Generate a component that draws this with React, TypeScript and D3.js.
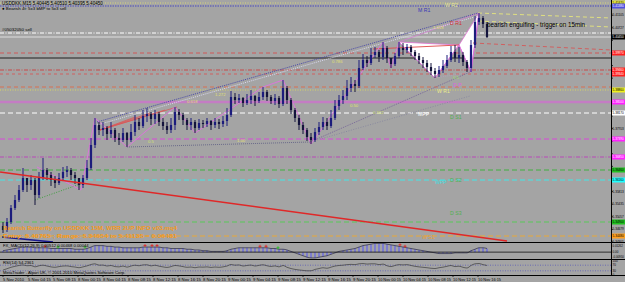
import React from "react";
import * as d3 from "d3";

// ---------- data ----------
const firstOpen = 5.3478;
const closes = [
  5.3466, 5.3490, 5.3532, 5.3556, 5.3586, 5.3622, 5.3601, 5.3616, 5.3571, 5.3622,
  5.3646, 5.3631, 5.3616, 5.3607, 5.3622, 5.3640, 5.3646, 5.3631, 5.3622, 5.3601,
  5.3622, 5.3652, 5.3721, 5.3781, 5.3766, 5.3772, 5.3754, 5.3766, 5.3742, 5.3736,
  5.3757, 5.3736, 5.3760, 5.3790, 5.3778, 5.3808, 5.3814, 5.3799, 5.3814, 5.3790,
  5.3778, 5.3766, 5.3781, 5.3820, 5.3811, 5.3796, 5.3781, 5.3790, 5.3772, 5.3787,
  5.3784, 5.3793, 5.3781, 5.3790, 5.3784, 5.3793, 5.3811, 5.3865, 5.3856, 5.3862,
  5.3847, 5.3856, 5.3868, 5.3853, 5.3865, 5.3880, 5.3865, 5.3853, 5.3862, 5.3844,
  5.3892, 5.3856, 5.3826, 5.3802, 5.3781, 5.3766, 5.3745, 5.3736, 5.3760, 5.3775,
  5.3790, 5.3778, 5.3802, 5.3838, 5.3856, 5.3868, 5.3892, 5.3904, 5.3898, 5.3952,
  5.3976, 5.3967, 5.3991, 5.4000, 5.3985, 5.4012, 5.3982, 5.3964, 5.3988, 5.4012,
  5.4006, 5.4015, 5.4000, 5.3988, 5.3976, 5.3967, 5.3955, 5.3943, 5.3934, 5.3946,
  5.3958, 5.3976, 5.4000, 5.3982, 5.3991, 5.3970, 5.3952, 5.4021, 5.4090, 5.4102,
  5.4084, 5.4045,
];
const highs = [
  5.3490, 5.3502, 5.3541, 5.3571, 5.3601, 5.3652, 5.3622, 5.3631, 5.3622, 5.3640,
  5.3682, 5.3652, 5.3640, 5.3628, 5.3637, 5.3655, 5.3658, 5.3652, 5.3640, 5.3622,
  5.3631, 5.3676, 5.3742, 5.3802, 5.3790, 5.3790, 5.3778, 5.3790, 5.3772, 5.3757,
  5.3772, 5.3760, 5.3784, 5.3811, 5.3802, 5.3826, 5.3832, 5.3820, 5.3826, 5.3820,
  5.3802, 5.3790, 5.3802, 5.3835, 5.3829, 5.3817, 5.3802, 5.3802, 5.3796, 5.3799,
  5.3796, 5.3802, 5.3796, 5.3802, 5.3799, 5.3808, 5.3832, 5.3883, 5.3877, 5.3874,
  5.3865, 5.3874, 5.3886, 5.3871, 5.3880, 5.3895, 5.3886, 5.3871, 5.3874, 5.3868,
  5.3916, 5.3898, 5.3862, 5.3832, 5.3811, 5.3790, 5.3772, 5.3757, 5.3772, 5.3790,
  5.3805, 5.3802, 5.3826, 5.3856, 5.3871, 5.3886, 5.3916, 5.3925, 5.3916, 5.3976,
  5.3994, 5.3988, 5.4012, 5.4015, 5.4006, 5.4030, 5.4018, 5.3982, 5.3997, 5.4030,
  5.4027, 5.4024, 5.4021, 5.4006, 5.3997, 5.3985, 5.3976, 5.3967, 5.3952, 5.3958,
  5.3976, 5.3991, 5.4018, 5.4021, 5.4015, 5.4000, 5.3976, 5.4036, 5.4108, 5.4117,
  5.4108, 5.4090,
];
const lows = [
  5.3457, 5.3460, 5.3484, 5.3526, 5.3550, 5.3580, 5.3580, 5.3586, 5.3541, 5.3562,
  5.3616, 5.3616, 5.3598, 5.3592, 5.3601, 5.3616, 5.3625, 5.3616, 5.3604, 5.3586,
  5.3592, 5.3616, 5.3646, 5.3712, 5.3751, 5.3748, 5.3736, 5.3742, 5.3730, 5.3721,
  5.3730, 5.3715, 5.3730, 5.3748, 5.3766, 5.3772, 5.3790, 5.3781, 5.3784, 5.3778,
  5.3766, 5.3754, 5.3757, 5.3766, 5.3796, 5.3781, 5.3766, 5.3766, 5.3757, 5.3766,
  5.3772, 5.3775, 5.3766, 5.3772, 5.3769, 5.3775, 5.3778, 5.3805, 5.3844, 5.3847,
  5.3835, 5.3841, 5.3844, 5.3838, 5.3847, 5.3856, 5.3853, 5.3844, 5.3841, 5.3832,
  5.3838, 5.3844, 5.3814, 5.3790, 5.3766, 5.3754, 5.3733, 5.3724, 5.3730, 5.3751,
  5.3766, 5.3766, 5.3772, 5.3796, 5.3826, 5.3844, 5.3856, 5.3880, 5.3880, 5.3892,
  5.3946, 5.3955, 5.3961, 5.3982, 5.3970, 5.3976, 5.3967, 5.3952, 5.3958, 5.3982,
  5.3991, 5.3997, 5.3988, 5.3976, 5.3964, 5.3952, 5.3940, 5.3931, 5.3922, 5.3925,
  5.3937, 5.3952, 5.3970, 5.3970, 5.3967, 5.3958, 5.3940, 5.3940, 5.4012, 5.4081,
  5.4072, 5.4042,
];
const macdHist = [
  0.002, 0.003, 0.004, 0.005, 0.006, 0.007, 0.007, 0.007, 0.006, 0.006, 0.006, 0.006, 0.005, 0.005, 0.005, 0.005, 0.005, 0.005, 0.004, 0.004, 0.004, 0.005,
  0.007, 0.009, 0.009, 0.009, 0.008, 0.008, 0.007, 0.007, 0.006, 0.006, 0.006, 0.006, 0.006, 0.007, 0.007, 0.007, 0.007, 0.007, 0.006, 0.006, 0.005, 0.005, 0.005, 0.005,
  0.004, 0.004, 0.003, 0.003, 0.002, 0.002, 0.001, 0.001, 0.001, 0.001, 0.002,
  0.004, 0.005, 0.006, 0.006, 0.006, 0.006, 0.006, 0.006, 0.006, 0.006, 0.005, 0.005, 0.004, 0.004, 0.003, 0.001,
  -0.001, -0.003, -0.005, -0.007, -0.008, -0.008, -0.007, -0.006, -0.005, -0.003,
  -0.001, 0.001, 0.002, 0.003, 0.004, 0.005,
  0.007, 0.009, 0.010, 0.011, 0.012, 0.012, 0.012, 0.011, 0.010, 0.009, 0.008, 0.007, 0.006,
  0.005, 0.004, 0.003, 0.002, 0.001, 0.0,
  -0.001, -0.002, -0.002, -0.002, -0.002, -0.001, -0.001, -0.001, -0.001,
  0.002, 0.004, 0.006, 0.006, 0.005,
];
const rsiValues = [
  35, 45, 55, 62, 68, 72, 66, 68, 58, 66, 70,
  64, 58, 55, 60, 64, 65, 60, 57, 52, 58, 65,
  75, 80, 70, 71, 64, 68, 60, 58, 64, 56, 64, 70,
  66, 72, 73, 65, 70, 63, 58, 54, 60, 68, 65, 60,
  55, 57, 52, 57, 56, 58, 54, 57, 55, 58, 64,
  75, 70, 72, 64, 68, 71, 64, 69, 73, 66, 61, 65, 58,
  68, 55, 46, 40, 36, 33, 30, 30, 40, 46, 52, 48, 56,
  64, 68, 70, 74, 76, 74, 80, 82, 78, 80, 80, 74,
  78, 66, 60, 68, 74, 72, 74, 68, 62, 58, 55, 52, 48,
  46, 52, 56, 62, 68, 60, 63, 55, 50, 68, 80, 82, 74, 68,
];
const timeLabels = [
  "5 Nov 2010", "5 Nov 04:15", "5 Nov 08:15", "8 Nov 00:15", "8 Nov 04:15",
  "8 Nov 08:15", "8 Nov 12:15", "8 Nov 16:15", "8 Nov 20:15", "9 Nov 00:15",
  "9 Nov 04:15", "9 Nov 08:15", "9 Nov 12:15", "9 Nov 16:15", "9 Nov 20:15",
  "10 Nov 00:15", "10 Nov 04:15", "10 Nov 08:15", "10 Nov 12:15", "10 Nov 16:15",
];
const priceTicks = [
  5.41105, 5.40727, 5.40349, 5.39971, 5.39593, 5.39215, 5.38837, 5.38459, 5.38081, 5.37703,
  5.37325, 5.36947, 5.36569, 5.36191, 5.35813, 5.35435, 5.35057, 5.34679, 5.34301,
];
const macdTicks = [0.01262, 0, -0.0095];
const macdTickText = ["0.01262", "0.00", "-0.00950"];
const rsiTicks = [100, 70, 30, 0];

type Level = { p: number; c: string; d?: string; w?: number; box?: string; tc?: string };
const levels: Level[] = [
  { p: 5.4147, c: "#d8d878", d: "1,1.5", box: "#e8e840" },
  { p: 5.4138, c: "#4848c0", d: "1.5,1", box: "#5050e0", tc: "#fff" },
  { p: 5.4057, c: "#ffffff", d: "4,1.5,1,1.5" },
  { p: 5.4045, c: "#dedede", box: "#000000", tc: "#fff" },
  { p: 5.3997, c: "#d05858", d: "4,3", box: "#ff2020", tc: "#fff" },
  { p: 5.3982, c: "#202020" },
  { p: 5.3946, c: "#c84848", d: "4,1.5,1,1.5", box: "#ff2020", tc: "#fff" },
  { p: 5.3934, c: "#d06060", d: "3,3", box: "#ff2020", tc: "#fff" },
  { p: 5.3895, c: "#d87050", d: "4,3" },
  { p: 5.3886, c: "#d8d860", d: "1,1.5", box: "#f0f020" },
  { p: 5.3850, c: "#c47cc4", w: 2.5, box: "#ff20ff", tc: "#fff" },
  { p: 5.3817, c: "#ffffff", d: "5,3", box: "#ffffff" },
  { p: 5.3739, c: "#d848d8", d: "5,3", box: "#ff20ff", tc: "#fff" },
  { p: 5.3685, c: "#b848b8", d: "4,1.5,1,1.5", box: "#ff20ff", tc: "#fff" },
  { p: 5.3646, c: "#40b040", d: "5,3", box: "#20c020" },
  { p: 5.3616, c: "#40e8e8", d: "5,3", box: "#20ffff" },
  { p: 5.3490, c: "#58c858", d: "5,3", box: "#20c020" },
  { p: 5.3448, c: "#e8a838", d: "5,3", box: "#ffa020" },
];

type Pt = [number, number];
const wedgeUpper: Pt[] = [[23.5, 5.3790], [118.75, 5.4117]];
const wedgeUpper2: Pt[] = [[23.5, 5.3781], [118.75, 5.4108]];
const wedgeLower: Pt[] = [[31, 5.3715], [76.75, 5.3730]];
const fanA: Pt[] = [[76.75, 5.3730], [116.75, 5.3940]];
const fanB: Pt[] = [[76.75, 5.3730], [116.75, 5.3868]];
const redFanFrom: Pt = [24.25, 5.3766];
const redFanTo: Pt[] = [[43.5, 5.3835], [40.5, 5.3826], [36.75, 5.3817], [33, 5.3805]];
const redTrend: Pt[] = [[-0.75, 5.3640], [126, 5.3433]];
const blueLine: Pt[] = [[-0.25, 5.3445], [12.5, 5.3430]];
const greenDotted: Pt[] = [[8, 5.3556], [20, 5.3607]];
const redXB: Pt[] = [[92.5, 5.4009], [114, 5.4021]];
const redDashRight: Pt[] = [[117.5, 5.4027], [152, 5.4006]];
const yellowA: Pt[] = [[118.75, 5.4117], [152, 5.4102]];
const yellowB: Pt[] = [[118.75, 5.4093], [152, 5.4075]];
const zigzag: Pt[] = [
  [8.5, 5.3655], [19.5, 5.3586], [23, 5.3802], [31, 5.3715], [43, 5.3835], [48, 5.3757],
  [65, 5.3895], [70, 5.3916], [77, 5.3724], [95, 5.4030], [97, 5.3952], [99, 5.4030],
  [108, 5.3922], [114, 5.4021], [117, 5.3940], [119, 5.4117],
];
const patternX: Pt = [99, 5.4030];
const patternA: Pt = [108, 5.3922];
const patternB: Pt = [114, 5.4021];
const patternC: Pt = [117, 5.3940];
const patternD: Pt = [119, 5.4117];

const fibLabels: { i: number; p: number; t: string; c: string }[] = [
  { i: 53, p: 5.3868, t: "1.272", c: "#e0e070" },
  { i: 46, p: 5.3847, t: "0.618", c: "#e0e070" },
  { i: 36.25, p: 5.3727, t: "0.5", c: "#d0e070" },
  { i: 58.5, p: 5.3730, t: "1.00", c: "#e0e070" },
  { i: 82.25, p: 5.3967, t: "0.786", c: "#e0e070" },
  { i: 86.75, p: 5.3835, t: "0.50", c: "#e0e070" },
  { i: 92.5, p: 5.3814, t: "0.382", c: "#d0e070" },
  { i: 107.5, p: 5.4069, t: "1.618", c: "#e8e070" },
  { i: 112.5, p: 5.3919, t: "0.5", c: "#a0e060" },
];
const pivotLabels: { i: number; p: number; t: string; c: string }[] = [
  { i: 110.5, p: 5.4135, t: "W R2", c: "#e8e890" },
  { i: 103.75, p: 5.4120, t: "M R1", c: "#3838b8" },
  { i: 111.75, p: 5.4081, t: "D R1", c: "#d03030" },
  { i: 112.5, p: 5.3895, t: "D P", c: "#e060e0" },
  { i: 108.5, p: 5.3877, t: "W R1", c: "#eaea90" },
  { i: 103.75, p: 5.3808, t: "MPP", c: "#ffffff" },
  { i: 111.75, p: 5.3799, t: "D S1", c: "#50b050" },
  { i: 111.75, p: 5.3610, t: "D S2", c: "#50b050" },
  { i: 108, p: 5.3604, t: "WPP", c: "#40e0e0" },
  { i: 111.75, p: 5.3511, t: "D S3", c: "#50b050" },
  { i: 104.75, p: 5.3439, t: "W S1", c: "#e8a030" },
];
const macdMarks: { i: number; c: string }[] = [
  { i: 10.5, c: "#e02020" }, { i: 35.5, c: "#e02020" }, { i: 37.25, c: "#e02020" },
  { i: 38.5, c: "#e02020" }, { i: 64.25, c: "#e02020" }, { i: 65.75, c: "#e02020" },
  { i: 99.25, c: "#e02020" }, { i: 100.5, c: "#e02020" },
  { i: 13.75, c: "#20c020" }, { i: 20.5, c: "#20c020" }, { i: 68.75, c: "#20c020" },
];

const BG = "#a4a4a4";
const FONT = "'Liberation Sans', Arial, sans-serif";

export default function App() {
  const PR = 611; // plot right edge
  const AX = 612.6; // axis label x
  const xS = d3.scaleLinear().domain([0, closes.length - 1]).range([3, 487]);
  const yS = d3.scaleLinear().domain([5.343, 5.4156]).range([242, 0]);
  const mY = d3.scaleLinear().domain([-0.0095, 0.01262]).range([259, 243]);
  const rY = d3.scaleLinear().domain([0, 100]).range([275, 261]);
  const opens = closes.map((c, i) => (i === 0 ? firstOpen : closes[i - 1]));
  const ln = d3.line<Pt>().x((d) => xS(d[0])).y((d) => yS(d[1]));
  const macdLine = d3
    .line<number>()
    .x((_, i) => xS(i))
    .y((d) => mY(d))
    .curve(d3.curveMonotoneX);
  const rsiLine = d3
    .line<number>()
    .x((_, i) => xS(i))
    .y((d) => rY(d))
    .curve(d3.curveMonotoneX);
  const tri = (a: Pt, b: Pt, c: Pt) => ln([a, b, c, a]) || "";
  const boxed = levels.filter((l) => l.box);
  const visibleTicks = priceTicks.filter((t) => boxed.every((l) => Math.abs(yS(t) - yS(l.p)) > 5.2));
  const macdTextY = [246.6, 253.2, 258.0];

  return (
    <svg
      width={625}
      height={282}
      style={{ position: "absolute", left: 0, top: 0, display: "block" }}
      fontFamily={FONT}
    >
      <defs>
        <clipPath id="mainClip">
          <rect x={0} y={0} width={PR} height={242} />
        </clipPath>
        <clipPath id="subClip">
          <rect x={0} y={242} width={PR} height={34} />
        </clipPath>
      </defs>
      <rect x={0} y={0} width={625} height={282} fill={BG} />

      {/* ---------- main price panel ---------- */}
      <g clipPath="url(#mainClip)">
        {levels.map((l, k) => (
          <line
            key={"lv" + k}
            x1={0}
            x2={PR}
            y1={yS(l.p)}
            y2={yS(l.p)}
            stroke={l.c}
            strokeWidth={l.w ?? 1}
            strokeDasharray={l.d}
          />
        ))}

        {/* butterfly triangles */}
        <path d={tri(patternX, patternA, patternB)} fill="#ffffff" stroke="#e070d0" strokeWidth={0.8} />
        <path d={tri(patternB, patternC, patternD)} fill="#ffffff" stroke="#e070d0" strokeWidth={0.8} />
        <path d={ln([patternX, patternD]) || ""} stroke="#d080d0" strokeWidth={0.8} fill="none" />
        <path d={ln([patternA, patternC]) || ""} stroke="#c0a0c0" strokeWidth={0.6} strokeDasharray="1,1" fill="none" />

        {/* wedge & fan lines */}
        <path d={ln(wedgeUpper2) || ""} stroke="#d8d8f0" strokeWidth={1} strokeDasharray="1,1" fill="none" />
        <path d={ln(wedgeUpper) || ""} stroke="#4848a8" strokeWidth={1} strokeDasharray="1,1" fill="none" />
        <path d={ln(wedgeLower) || ""} stroke="#6a6a8a" strokeWidth={1} strokeDasharray="1,1" fill="none" />
        <path d={ln(fanA) || ""} stroke="#7a6a9a" strokeWidth={1} strokeDasharray="1,1" fill="none" />
        <path d={ln(fanB) || ""} stroke="#8a8aa0" strokeWidth={1} strokeDasharray="1,1.5" fill="none" />
        {redFanTo.map((t, k) => (
          <path key={"rf" + k} d={ln([redFanFrom, t]) || ""} stroke="#e05050" strokeWidth={0.7} fill="none" />
        ))}
        <path d={ln(redXB) || ""} stroke="#e04848" strokeWidth={0.9} fill="none" />
        <path d={ln(redDashRight) || ""} stroke="#d06060" strokeWidth={1} strokeDasharray="4,3" fill="none" />
        <path d={ln(yellowA) || ""} stroke="#e0e080" strokeWidth={1} strokeDasharray="4,3" fill="none" />
        <path d={ln(yellowB) || ""} stroke="#e0e080" strokeWidth={1} strokeDasharray="4,3" fill="none" />
        <path d={ln(greenDotted) || ""} stroke="#40a040" strokeWidth={1} strokeDasharray="1,1.5" fill="none" />
        <path d={ln(zigzag) || ""} stroke="#e070e0" strokeWidth={0.9} fill="none" />

        {/* candles */}
        {closes.map((c, i) => {
          const o = opens[i];
          const x = xS(i);
          const up = c >= o;
          const col = up ? "#1c1c7c" : "#14143c";
          const yT = yS(Math.max(o, c));
          const yB = yS(Math.min(o, c));
          return (
            <g key={"c" + i}>
              <line x1={x} x2={x} y1={yS(highs[i])} y2={yS(lows[i])} stroke={col} strokeWidth={1} />
              <rect x={x - 1.1} y={yT} width={2.2} height={Math.max(0.8, yB - yT)} fill={col} />
            </g>
          );
        })}

        {/* trend lines on top */}
        <path d={ln(redTrend) || ""} stroke="#e02828" strokeWidth={1.5} fill="none" />
        <path d={ln(blueLine) || ""} stroke="#1a1a90" strokeWidth={1.6} fill="none" />

        {/* labels */}
        {fibLabels.map((f, k) => (
          <text key={"fb" + k} x={xS(f.i)} y={yS(f.p)} fontSize={4.2} fill={f.c}>
            {f.t}
          </text>
        ))}
        {pivotLabels.map((f, k) => (
          <text key={"pv" + k} x={xS(f.i)} y={yS(f.p)} fontSize={5.2} fill={f.c}>
            {f.t}
          </text>
        ))}
        <text x={487} y={yS(5.4075)} fontSize={7} fill="#000" textLength={98} lengthAdjust="spacingAndGlyphs">
          bearish engulfing - trigger on 15min
        </text>
        <text x={2} y={5} fontSize={4.6} fill="#000">
          USDDKK,M15  5.40445 5.40510 5.40395 5.40450
        </text>
        <text x={2} y={10} fontSize={4.4} fill="#000">
          ● Bearish 4t: 5x3 bMP to 5x3 sell
        </text>
        <text x={2} y={31} fontSize={4.4} fill="#000">
          #05032050 sell
        </text>
        <text x={3} y={230} fontSize={6} fontWeight="bold" fill="#f59a1c" textLength={174} lengthAdjust="spacingAndGlyphs">
          Bearish Butterfly on USDDKK 15M,  WRR 2UP  INFO  v03.mq4
        </text>
        <text x={3} y={237.5} fontSize={6} fontWeight="bold" fill="#f59a1c" textLength={174} lengthAdjust="spacingAndGlyphs">
          Entry: 5.40765 ; Range: 5.34654 to 5.41135 = 0.06481
        </text>
      </g>

      {/* ---------- sub panels ---------- */}
      <g clipPath="url(#subClip)">
        {macdHist.map((v, i) => (
          <line
            key={"m" + i}
            x1={xS(i)}
            x2={xS(i)}
            y1={mY(0)}
            y2={mY(v)}
            stroke="#7474d8"
            strokeWidth={1.6}
          />
        ))}
        <path d={macdLine(macdHist) || ""} stroke="#3a3a50" strokeWidth={0.8} fill="none" />
        {macdMarks.map((m, k) => {
          const v = macdHist[Math.round(m.i)];
          const x = xS(m.i);
          const y = mY(v) - 1.5;
          return (
            <g key={"mk" + k} stroke={m.c} strokeWidth={0.8}>
              <line x1={x - 1.5} x2={x + 1.5} y1={y} y2={y} />
              <line x1={x} x2={x} y1={y - 1.5} y2={y + 1.5} />
            </g>
          );
        })}
        {[70, 30].map((v) => (
          <line key={"rl" + v} x1={0} x2={PR} y1={rY(v)} y2={rY(v)} stroke="#5a5ab8" strokeWidth={0.8} strokeDasharray="1,1.5" />
        ))}
        <path d={rsiLine(rsiValues) || ""} stroke="#3c3c3c" strokeWidth={0.7} fill="none" />
      </g>
      <line x1={0} x2={PR} y1={mY(0)} y2={mY(0)} stroke="#101010" strokeWidth={0.8} />
      <text x={3} y={247} fontSize={4.2} fill="#000">
        FX_MACD(12,26,9) 0.00512 0.00468 0.00044
      </text>
      <text x={3} y={264} fontSize={4.2} fill="#000">
        RSI(14) 54.2361
      </text>
      <text x={3} y={274} fontSize={4.2} fill="#000">
        MetaTrader - Alpari UK, © 2001-2010 MetaQuotes Software Corp.
      </text>

      {/* panel borders */}
      <line x1={0} x2={625} y1={242.5} y2={242.5} stroke="#000" strokeWidth={1} />
      <line x1={0} x2={625} y1={259.5} y2={259.5} stroke="#000" strokeWidth={1} />
      <line x1={0} x2={625} y1={275.5} y2={275.5} stroke="#000" strokeWidth={1} />
      <line x1={PR + 0.5} x2={PR + 0.5} y1={0} y2={276} stroke="#000" strokeWidth={1} />

      {/* price axis */}
      {priceTicks.map((t, k) => (
        <line key={"ptl" + k} x1={PR} x2={PR + 2} y1={yS(t)} y2={yS(t)} stroke="#000" strokeWidth={0.7} />
      ))}
      {visibleTicks.map((t, k) => (
        <text
          key={"pt" + k}
          x={AX}
          y={yS(t) + 1.1}
          fontSize={3.1}
          fill="#000"
          textLength={11.2}
          lengthAdjust="spacingAndGlyphs"
        >
          {t.toFixed(5)}
        </text>
      ))}
      {boxed.map((l, k) => (
        <g key={"bx" + k}>
          <rect x={PR + 1} y={yS(l.p) - 2.5} width={13} height={5} fill={l.box} />
          <text
            x={AX}
            y={yS(l.p) + 1.1}
            fontSize={3.1}
            fill={l.tc ?? "#000"}
            textLength={11.2}
            lengthAdjust="spacingAndGlyphs"
          >
            {l.p.toFixed(5)}
          </text>
        </g>
      ))}
      {macdTicks.map((t, k) => (
        <text
          key={"mt" + k}
          x={AX}
          y={macdTextY[k]}
          fontSize={2.8}
          fill="#000"
          textLength={Math.min(11.2, macdTickText[k].length * 1.45)}
          lengthAdjust="spacingAndGlyphs"
        >
          {macdTickText[k]}
        </text>
      ))}
      {rsiTicks.map((t) => (
        <text key={"rt" + t} x={AX} y={rY(t) + 1.2} fontSize={3.1} fill="#000">
          {t}
        </text>
      ))}

      {/* time axis */}
      {timeLabels.map((t, k) => (
        <g key={"tl" + k}>
          <line x1={xS(k * 6.25)} x2={xS(k * 6.25)} y1={275.5} y2={277} stroke="#000" strokeWidth={0.7} />
          <text x={xS(k * 6.25)} y={281} fontSize={4.4} fill="#000" textLength={Math.min(23, t.length * 2.1)} lengthAdjust="spacingAndGlyphs">
            {t}
          </text>
        </g>
      ))}
    </svg>
  );
}
